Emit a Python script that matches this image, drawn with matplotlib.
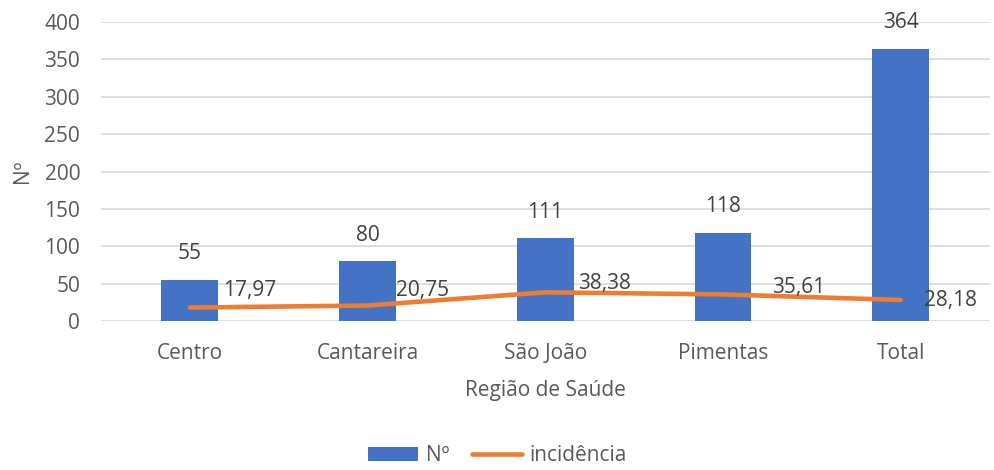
import matplotlib.pyplot as plt
import numpy as np
from matplotlib.patches import Patch
from matplotlib.lines import Line2D

regioes = ["Centro", "Cantareira", "São João", "Pimentas", "Total"]
casos = [55, 80, 111, 118, 364]
incidencia = [17.97, 20.75, 38.38, 35.61, 28.18]

bar_color = "#4472C4"
line_color = "#ED7D31"
text_color = "#595959"
label_color = "#404040"
fs = 15

plt.rcParams["font.family"] = ["Open Sans", "DejaVu Sans"]

fig = plt.figure(figsize=(9.95, 4.7), dpi=100)
ax = fig.add_axes([0.1015, 0.317, 0.893, 0.636])

x = np.arange(len(regioes))
ax.bar(x, casos, width=0.32, color=bar_color, zorder=2)
ax.plot(x, incidencia, color=line_color, linewidth=3.3, solid_capstyle="round",
        solid_joinstyle="round", zorder=3)

for xi, v in zip(x, casos):
    ax.annotate(str(v), (xi, v), xytext=(0, 26), textcoords="offset pixels",
                ha="center", va="center", fontsize=fs, color=label_color, zorder=4)

# label offsets in pixels (left edge, vertical centre)
offs = [(33, 17), (28, 15), (33, 9), (49, 7), (23, -1)]
for xi, v, (dx, dy) in zip(x, incidencia, offs):
    ax.annotate(f"{v:.2f}".replace(".", ","), (xi, v), xytext=(dx, dy),
                textcoords="offset pixels", ha="left", va="center",
                fontsize=fs, color=label_color, zorder=4)

ax.set_xlim(-0.5, len(regioes) - 0.5)
ax.set_ylim(0, 400)
ax.set_yticks(np.arange(0, 401, 50))
ax.set_xticks(x)
ax.set_xticklabels(regioes)
ax.grid(axis="y", color="#D9D9D9", linewidth=1.2, zorder=0)
ax.set_axisbelow(True)
for s in ax.spines.values():
    s.set_visible(False)
ax.tick_params(axis="both", length=0, labelsize=fs, labelcolor=text_color)
ax.tick_params(axis="x", pad=16)
ax.tick_params(axis="y", pad=15)

ax.set_xlabel("Região de Saúde", fontsize=fs, color=text_color, labelpad=11)
ax.set_ylabel("Nº", fontsize=fs, color=text_color, labelpad=8)

handles = [Patch(facecolor=bar_color, label="Nº"),
           Line2D([0], [0], color=line_color, linewidth=3.3, solid_capstyle="round",
                  label="incidência")]
fig.legend(handles=handles, loc="center", bbox_to_anchor=(0.5, 0.03), ncol=2,
           frameon=False, fontsize=fs, labelcolor=text_color, handlelength=2.4,
           handleheight=0.7, handletextpad=0.35, columnspacing=1.1)

fig.savefig("out.png", dpi=100)
